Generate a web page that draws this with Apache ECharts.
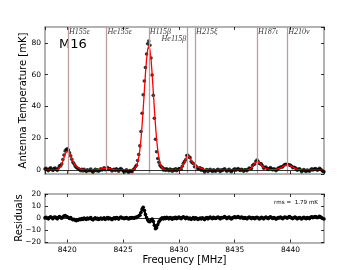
<!DOCTYPE html>
<html><head><meta charset="utf-8">
<script src="https://cdn.jsdelivr.net/npm/echarts@6/dist/echarts.min.js"></script>
<style>html,body{margin:0;padding:0;background:#fff}#c{width:360px;height:270px}</style>
</head><body><div id="c"></div>
<script>
// Frequency channels [MHz]
const freq = [
8418.0,8418.1,8418.2,8418.3,8418.4,8418.5,8418.6,8418.7,8418.8,8418.9,
8419.0,8419.1,8419.2,8419.3,8419.4,8419.5,8419.6,8419.7,8419.8,8419.9,
8420.0,8420.1,8420.2,8420.3,8420.4,8420.5,8420.6,8420.7,8420.8,8420.9,
8421.0,8421.1,8421.2,8421.3,8421.4,8421.5,8421.6,8421.7,8421.8,8421.9,
8422.0,8422.1,8422.2,8422.3,8422.4,8422.5,8422.6,8422.7,8422.8,8422.9,
8423.0,8423.1,8423.2,8423.3,8423.4,8423.5,8423.6,8423.7,8423.8,8423.9,
8424.0,8424.1,8424.2,8424.3,8424.4,8424.5,8424.6,8424.7,8424.8,8424.9,
8425.0,8425.1,8425.2,8425.3,8425.4,8425.5,8425.6,8425.7,8425.8,8425.9,
8426.0,8426.1,8426.2,8426.3,8426.4,8426.5,8426.6,8426.7,8426.8,8426.9,
8427.0,8427.1,8427.2,8427.3,8427.4,8427.5,8427.6,8427.7,8427.8,8427.9,
8428.0,8428.1,8428.2,8428.3,8428.4,8428.5,8428.6,8428.7,8428.8,8428.9,
8429.0,8429.1,8429.2,8429.3,8429.4,8429.5,8429.6,8429.7,8429.8,8429.9,
8430.0,8430.1,8430.2,8430.3,8430.4,8430.5,8430.6,8430.7,8430.8,8430.9,
8431.0,8431.1,8431.2,8431.3,8431.4,8431.5,8431.6,8431.7,8431.8,8431.9,
8432.0,8432.1,8432.2,8432.3,8432.4,8432.5,8432.6,8432.7,8432.8,8432.9,
8433.0,8433.1,8433.2,8433.3,8433.4,8433.5,8433.6,8433.7,8433.8,8433.9,
8434.0,8434.1,8434.2,8434.3,8434.4,8434.5,8434.6,8434.7,8434.8,8434.9,
8435.0,8435.1,8435.2,8435.3,8435.4,8435.5,8435.6,8435.7,8435.8,8435.9,
8436.0,8436.1,8436.2,8436.3,8436.4,8436.5,8436.6,8436.7,8436.8,8436.9,
8437.0,8437.1,8437.2,8437.3,8437.4,8437.5,8437.6,8437.7,8437.8,8437.9,
8438.0,8438.1,8438.2,8438.3,8438.4,8438.5,8438.6,8438.7,8438.8,8438.9,
8439.0,8439.1,8439.2,8439.3,8439.4,8439.5,8439.6,8439.7,8439.8,8439.9,
8440.0,8440.1,8440.2,8440.3,8440.4,8440.5,8440.6,8440.7,8440.8,8440.9,
8441.0,8441.1,8441.2,8441.3,8441.4,8441.5,8441.6,8441.7,8441.8,8441.9,
8442.0,8442.1,8442.2,8442.3,8442.4,8442.5,8442.6,8442.7,8442.8,8442.9,
8443.0];

// Observed antenna temperature [mK]
const spectrum = [
0.6,1.1,0.2,-0.4,0.8,1.4,0.5,-0.3,0.9,1.2,
0.4,-0.2,1.3,2.7,2.6,3.8,6.6,9.5,12.0,12.9,
13.4,12.6,10.9,8.9,6.8,4.9,3.9,2.6,1.8,1.1,
0.9,0.2,-0.4,0.5,-0.6,0.4,-0.3,-0.9,0.1,-0.5,
-0.2,0.6,-0.8,-1.3,-0.4,0.4,-0.5,0.1,-0.8,-0.1,
0.7,0.0,0.5,1.4,0.2,0.9,1.6,0.4,0.9,0.3,
-0.6,0.1,0.5,-0.3,0.7,0.2,-0.7,0.4,0.9,0.2,
-0.6,-1.2,-0.5,0.2,-0.9,-1.4,-0.3,-0.8,-1.1,0.2,
0.7,2.1,3.0,6.0,9.7,15.2,24.2,35.7,47.4,56.0,
64.5,73.0,79.5,81.2,78.5,70.5,59.8,47.0,32.6,19.4,
11.5,7.3,4.9,3.0,2.0,1.7,0.0,0.8,-0.2,0.8,
0.2,-0.5,0.6,0.1,-0.8,0.3,-0.2,0.7,-0.4,0.2,
1.0,0.7,0.5,2.4,4.3,5.3,6.5,9.1,9.2,8.1,
7.8,5.3,4.6,4.1,2.1,2.6,1.9,0.7,1.1,1.4,
-0.1,0.7,-0.2,-1.2,-0.1,0.3,-0.9,-0.1,0.4,-0.3,
-0.9,0.2,-0.4,-0.7,0.0,0.5,-0.2,-1.0,0.1,-0.3,
0.3,0.8,-0.1,-0.8,0.0,0.4,-0.4,-1.1,-0.2,0.2,
0.7,-0.1,0.3,1.0,0.1,-0.3,0.5,0.0,-0.7,0.1,
0.1,-0.5,0.5,1.3,0.9,1.0,2.8,3.5,3.8,5.5,
6.2,5.4,4.1,3.9,3.7,2.5,1.1,1.6,1.9,1.0,
0.3,1.0,1.5,0.7,0.1,0.8,0.4,-0.4,0.4,1.2,
1.3,1.9,1.9,2.0,3.0,3.4,3.6,3.3,3.5,3.2,
3.0,2.4,1.4,1.7,1.5,1.0,-0.1,0.5,0.8,0.0,
-1.1,-0.2,0.3,-0.4,-0.9,0.0,-0.3,-0.8,0.2,0.7,
0.0,0.4,1.0,0.6,-0.1,0.3,1.1,0.5,-0.2,-0.7,
-1.1];

// Model fit [mK]
const fit = [
0,0,0,0,0,0,0,0,0,0,
0.1,0.3,0.6,1.2,2.2,3.7,5.6,7.7,9.8,11.3,
12.1,11.9,10.8,9.1,7.3,5.5,4.1,3.0,2.2,1.6,
1.2,0.9,0.6,0.4,0.3,0.2,0.1,0.1,0,0,
0,0,0,0,0,0.1,0.1,0.2,0.2,0.4,
0.5,0.7,0.8,1.0,1.1,1.1,1.1,1.0,0.8,0.7,
0.5,0.4,0.2,0.2,0.1,0.1,0,0,0,0,
0,0,0,0,0,0,0,0,0.1,0.3,
0.6,1.3,2.5,4.6,7.9,12.7,19.4,28.1,38.4,49.5,
60.5,69.7,75.8,78.0,75.8,69.7,60.5,49.5,38.4,28.1,
19.4,12.7,7.9,4.6,2.5,1.3,0.6,0.3,0.1,0,
0,0,0,0,0,0,0,0,0,0,
0.1,0.4,0.9,1.8,3.2,4.9,6.8,8.3,9.0,8.7,
7.7,6.2,4.8,3.6,2.8,2.3,2.0,1.7,1.5,1.2,
1.0,0.8,0.6,0.4,0.3,0.2,0.1,0.1,0,0,
0,0,0,0,0,0,0,0,0,0,
0,0,0,0,0,0,0,0,0,0,
0,0,0,0,0,0,0,0,0,0,
0,0,0.1,0.4,0.7,1.3,2.2,3.2,4.2,5.0,
5.4,5.2,4.7,3.8,3.0,2.2,1.6,1.2,1.0,0.8,
0.6,0.5,0.4,0.3,0.3,0.2,0.2,0.3,0.5,0.7,
1.0,1.3,1.7,2.2,2.6,2.9,3.1,3.2,3.1,2.9,
2.6,2.2,1.7,1.3,1.0,0.7,0.4,0.3,0.2,0.1,
0,0,0,0,0,0,0,0,0,0,
0,0,0,0,0,0,0,0,0,0,
0];

// Residuals [mK]
const residual = [
0.3,0.8,0.0,-0.5,0.6,1.1,0.4,-0.4,0.7,1.0,
0.3,-0.5,0.7,1.5,0.4,0.1,1.0,1.8,2.2,1.6,
1.1,0.4,-0.2,0.5,-0.6,-1.2,-0.8,-1.7,-2.0,-1.3,
-1.5,-0.7,-1.1,-0.3,-0.9,0.2,-0.4,-1.0,0.1,-0.5,
-0.2,0.6,-0.8,-1.3,-0.4,0.3,-0.6,-0.1,-1.0,-0.5,
0.2,-0.7,-0.3,0.4,-0.9,-0.2,0.5,-0.6,0.1,-0.4,
-1.1,-0.3,0.3,-0.5,0.6,0.1,-0.7,0.4,0.9,0.2,
0.1,-0.4,0.3,0.6,-0.2,-0.6,0.4,-0.1,0.5,0.2,
0.1,0.8,0.5,1.4,1.8,2.5,4.8,7.6,9.0,6.5,
3.0,0.5,-1.5,-2.6,-2.9,-1.6,-0.7,-2.5,-5.8,-8.7,
-7.9,-5.4,-3.0,-1.6,-0.5,0.4,-0.6,0.5,-0.3,0.8,
0.2,-0.5,0.6,0.1,-0.8,0.3,-0.2,0.7,-0.4,0.2,
0.9,0.3,-0.4,0.6,1.1,0.4,-0.3,0.8,0.2,-0.6,
0.1,-0.9,-0.2,0.5,-0.7,0.3,-0.1,-1.0,-0.4,0.2,
-0.6,0.4,-0.3,-1.1,0.1,0.6,-0.5,0.3,0.9,0.2,
-0.4,0.7,0.1,-0.2,0.5,1.0,0.3,-0.5,0.6,0.2,
0.8,1.3,0.4,-0.3,0.5,0.9,0.1,-0.6,0.3,0.7,
1.2,0.4,0.8,1.5,0.6,0.2,1.0,0.5,-0.2,0.6,
0.1,-0.5,0.4,0.9,0.2,-0.3,0.6,0.3,-0.4,0.5,
0.8,0.2,-0.6,0.1,0.7,0.3,-0.5,0.4,0.9,0.2,
-0.3,0.5,1.1,0.4,-0.2,0.6,0.2,-0.7,-0.1,0.5,
0.3,0.9,0.2,-0.4,0.5,1.0,0.6,0.1,0.8,1.4,
0.7,0.2,-0.3,0.4,0.9,0.3,-0.5,0.2,0.6,-0.1,
-0.6,0.3,0.8,0.1,-0.4,0.5,0.2,-0.3,0.7,1.2,
0.5,0.9,1.5,1.1,0.4,0.8,1.6,1.0,0.3,-0.2,
-0.6];

// Recombination line rest frequencies [MHz]
const lineFreqs = [8420.05, 8423.5, 8427.3, 8430.75, 8431.45, 8437.0, 8439.7];
const lineNames = ['H155\u03b5', 'He155\u03b5', 'H115\u03b2', 'He115\u03b2', 'H215\u03be', 'H187\u03b9', 'H210\u03bd'];

const xTicks = [8420, 8425, 8430, 8435, 8440];
const tempTicks = [0, 20, 40, 60, 80];
const residTicks = [-20, -10, 0, 10, 20];
const sourceName = 'M16';
const rmsLabel = 'rms =  1.79 mK';
const xTitle = 'Frequency [MHz]';
const yTitleTop = 'Antenna Temperature [mK]';
const yTitleBottom = 'Residuals';

const FRAME = '#9a9a9a';
const FONT = 'DejaVu Sans';
const near = (v, arr) => arr.some(t => Math.abs(t - v) < 1e-6);
const fmtMinus = v => String(v).replace('-', '\u2212');

function axisBase(extra) {
  return Object.assign({
    type: 'value',
    axisLine: { show: true, onZero: false, lineStyle: { color: FRAME, width: 1.5 } },
    axisTick: { show: true, inside: true, length: 3, lineStyle: { color: '#000', width: 0.8 } },
    axisLabel: { show: false },
    splitLine: { show: false }
  }, extra);
}

const xRange = { min: 8418, max: 8443, splitNumber: 5 };
const xLabel = {
  show: true, color: '#000', fontFamily: FONT, fontSize: 7.5, margin: 4,
  showMinLabel: false, showMaxLabel: false,
  formatter: v => near(v, xTicks) ? String(Math.round(v)) : ''
};

const option = {
  animation: false,
  backgroundColor: '#fff',
  grid: [
    { left: 45, top: 27, width: 279, height: 147 },
    { left: 45, top: 194, width: 279, height: 48.5 }
  ],
  xAxis: [
    axisBase(Object.assign({ gridIndex: 0, position: 'bottom' }, xRange)),
    axisBase(Object.assign({ gridIndex: 0, position: 'top' }, xRange)),
    axisBase(Object.assign({ gridIndex: 1, position: 'bottom', axisLabel: xLabel,
      name: xTitle, nameLocation: 'middle', nameGap: 13,
      nameTextStyle: { color: '#000', fontFamily: FONT, fontSize: 10 } }, xRange)),
    axisBase(Object.assign({ gridIndex: 1, position: 'top' }, xRange))
  ],
  yAxis: [
    axisBase({ gridIndex: 0, position: 'left', min: -2.5, max: 90, splitNumber: 5,
      axisLabel: { show: true, color: '#000', fontFamily: FONT, fontSize: 7.5, margin: 4,
        showMinLabel: false, showMaxLabel: false,
        formatter: v => near(v, tempTicks) ? String(Math.round(v)) : '' } }),
    axisBase({ gridIndex: 0, position: 'right', min: -2.5, max: 90, splitNumber: 5 }),
    axisBase({ gridIndex: 1, position: 'left', min: -20, max: 20, interval: 10,
      axisLabel: { show: true, color: '#000', fontFamily: FONT, fontSize: 7.5, margin: 4,
        formatter: v => near(v, residTicks) ? fmtMinus(Math.round(v)) : '' } }),
    axisBase({ gridIndex: 1, position: 'right', min: -20, max: 20, interval: 10 })
  ],
  series: [
    {
      name: 'lines', type: 'line', xAxisIndex: 0, yAxisIndex: 0, data: [], z: 1,
      silent: true,
      markLine: {
        silent: true, symbol: ['none', 'none'], animation: false,
        label: { show: false },
        lineStyle: { color: '#bf9c9c', width: 1.3, type: 'solid' },
        data: lineFreqs.map(f => ({ xAxis: f }))
      }
    },
    {
      name: 'zero', type: 'line', xAxisIndex: 0, yAxisIndex: 0, data: [], z: 1,
      silent: true,
      markLine: {
        silent: true, symbol: ['none', 'none'], animation: false,
        label: { show: false },
        lineStyle: { color: '#000', width: 0.8, type: 'solid' },
        data: [{ yAxis: 0 }]
      }
    },
    {
      name: 'spectrum', type: 'scatter', xAxisIndex: 0, yAxisIndex: 0, z: 2,
      symbol: 'circle', symbolSize: 3.6,
      itemStyle: { color: '#000' },
      data: freq.map((f, i) => [f, spectrum[i]])
    },
    {
      name: 'fit', type: 'line', xAxisIndex: 0, yAxisIndex: 0, z: 3,
      showSymbol: false, symbol: 'none',
      lineStyle: { color: '#ff0000', width: 1.3 },
      data: freq.map((f, i) => [f, fit[i]])
    },
    {
      name: 'labels', type: 'scatter', xAxisIndex: 0, yAxisIndex: 0, z: 4,
      symbolSize: 0, silent: true,
      data: lineFreqs.map((f, i) => {
        const lower = (i === 3);
        return {
          name: lineNames[i],
          value: [f, lower ? 82.5 : 87.1],
          label: { position: lower ? 'left' : 'right' }
        };
      }),
      label: {
        show: true, formatter: '{b}', distance: 1,
        color: '#000', fontFamily: 'Liberation Serif', fontStyle: 'italic', fontSize: 8
      }
    },
    {
      name: 'residual', type: 'line', xAxisIndex: 2, yAxisIndex: 2, z: 2,
      symbol: 'circle', symbolSize: 3.6, showSymbol: true,
      itemStyle: { color: '#000' },
      lineStyle: { color: '#000', width: 2.2 },
      data: freq.map((f, i) => [f, residual[i]]),
      markLine: {
        silent: true, symbol: ['none', 'none'], animation: false,
        label: { show: false },
        lineStyle: { color: '#000', width: 0.8, type: 'solid' },
        data: [{ yAxis: 0 }]
      }
    }
  ],
  graphic: [
    { type: 'text', left: 59, top: 38, style: { text: sourceName, fill: '#000', font: '13px "DejaVu Sans"' } },
    { type: 'text', right: 42, top: 200, style: { text: rmsLabel, fill: '#000', font: '5.6px "DejaVu Sans"' } },
    { type: 'text', x: 23.5, y: 100.5, rotation: Math.PI / 2,
      style: { text: yTitleTop, fill: '#000', font: '10px "DejaVu Sans"', align: 'center', verticalAlign: 'middle' } },
    { type: 'text', x: 19, y: 218, rotation: Math.PI / 2,
      style: { text: yTitleBottom, fill: '#000', font: '10px "DejaVu Sans"', align: 'center', verticalAlign: 'middle' } }
  ]
};

const chart = echarts.init(document.getElementById('c'), null, { renderer: 'canvas' });
chart.setOption(option);
</script>
</body></html>
